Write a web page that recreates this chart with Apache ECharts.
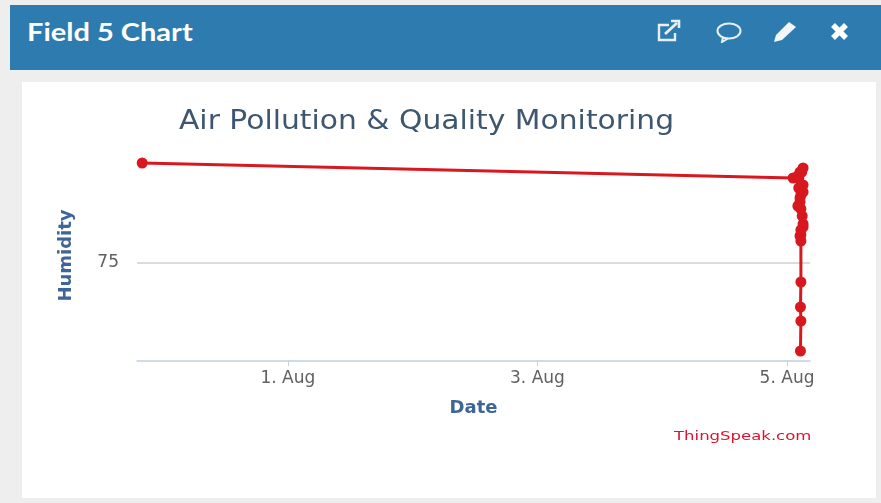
<!DOCTYPE html>
<html>
<head>
<meta charset="utf-8">
<title>Field 5 Chart</title>
<script src="https://cdn.jsdelivr.net/npm/echarts@6/dist/echarts.min.js"></script>
<style>
  html, body { margin: 0; padding: 0; background: #eeeeee; }
  #page { position: relative; width: 881px; height: 503px; overflow: hidden; }
  #header { position: absolute; left: 10px; top: 5px; width: 871px; height: 65px; background: #2e7bb0; }
  #header span { position: absolute; left: 17px; top: 11px; color: #fff; font: bold 25px Lato, sans-serif; transform: scaleX(1.16); transform-origin: left top; white-space: nowrap; }
  #header svg { position: absolute; top: 14px; }
  #card { position: absolute; left: 22px; top: 82px; width: 854px; height: 416px; background: #fff; }
  #main { position: absolute; left: 0; top: 0; width: 881px; height: 503px; }
</style>
</head>
<body>
<div id="page">
  <div id="header">
    <svg style="left:646px" width="28" height="24" viewBox="0 0 28 24" fill="none" stroke="#e8f0f6" stroke-width="2.4">
      <path d="M13 6H3v15h16v-7"/><path d="M9 15L21 4" stroke-width="2.8"/><path d="M15 2h8v7" stroke-width="2.6"/>
    </svg>
    <svg style="left:705px" width="28" height="24" viewBox="0 0 28 24" fill="none" stroke="#e8f0f6" stroke-width="2">
      <ellipse cx="14" cy="12" rx="11.5" ry="7.5"/><path d="M8 18l-1 5 6-3.5"/>
    </svg>
    <svg style="left:762px" width="28" height="24" viewBox="0 0 28 24" fill="#f2f6fa">
      <path d="M2 23l2-7L17 3l7 5L10 21z"/>
    </svg>
    <svg style="left:816px" width="28" height="24" viewBox="0 0 28 24" fill="none" stroke="#fff" stroke-width="5.5">
      <path d="M7 6l13 13M20 6L7 19"/>
    </svg>
    <span>Field 5 Chart</span>
  </div>
  <div id="card"></div>
  <div id="main"></div>
</div>
<script>
var titleText = 'Air Pollution & Quality Monitoring';
var xAxisName = 'Date';
var yAxisName = 'Humidity';
var creditText = 'ThingSpeak.com';
var xTicks = ['2018-08-01T00:00:00Z', '2018-08-03T00:00:00Z', '2018-08-05T00:00:00Z'];
var yTicks = [75];

var times = [
  '2018-07-30T20:00:00Z', '2018-08-05T01:10:00Z', '2018-08-05T02:05:00Z', '2018-08-05T03:05:00Z',
  '2018-08-05T02:50:00Z', '2018-08-05T02:30:00Z', '2018-08-05T02:15:00Z', '2018-08-05T02:40:00Z',
  '2018-08-05T03:05:00Z', '2018-08-05T02:15:00Z', '2018-08-05T03:05:00Z', '2018-08-05T02:40:00Z',
  '2018-08-05T02:30:00Z', '2018-08-05T02:30:00Z', '2018-08-05T02:05:00Z', '2018-08-05T02:40:00Z',
  '2018-08-05T02:55:00Z', '2018-08-05T03:05:00Z', '2018-08-05T03:05:00Z', '2018-08-05T02:40:00Z',
  '2018-08-05T02:40:00Z', '2018-08-05T02:30:00Z', '2018-08-05T02:40:00Z', '2018-08-05T02:40:00Z',
  '2018-08-05T02:35:00Z', '2018-08-05T02:40:00Z', '2018-08-05T02:35:00Z'
];
var humidity = [
  95, 92, 92.4, 94, 93.2, 93.2, 92, 90.4, 90.6, 90, 89.2, 88.6,
  88, 87.2, 86.4, 85.8, 84.4, 82.8, 82.2, 81.6, 80.6, 80.4, 79.4, 71.2, 66.2, 63.4, 57.4
];

function ms(t) { return +new Date(t); }

var chart = echarts.init(document.getElementById('main'));
chart.setOption({
  animation: false,
  graphic: [{
    type: 'text',
    x: 179,
    y: 109,
    scaleX: 1.145,
    style: { text: titleText, fill: '#3e576f', font: '26px "DejaVu Sans"' }
  }, {
    type: 'text',
    x: 674,
    y: 430,
    scaleX: 1.27,
    style: { text: creditText, fill: '#e01030', font: '13px "DejaVu Sans"' }
  }],
  grid: { left: 137, right: 71, top: 150, bottom: 142 },
  xAxis: {
    type: 'value',
    min: ms('2018-07-30T19:00:00Z'),
    max: ms('2018-08-05T04:25:00Z'),
    name: xAxisName,
    nameLocation: 'middle',
    nameGap: 38,
    nameTextStyle: { color: '#3d6595', fontWeight: 'bold', fontSize: 18, fontFamily: 'DejaVu Sans' },
    axisLine: { show: true, lineStyle: { color: '#c0d0e0', width: 1.5 } },
    axisTick: { show: true, length: 5, lineStyle: { color: '#c0d0e0' }, customValues: xTicks.map(ms) },
    axisLabel: {
      color: '#606060',
      fontSize: 17,
      fontFamily: 'DejaVu Sans',
      margin: 9,
      customValues: xTicks.map(ms),
      formatter: function (v) { return new Date(v).getUTCDate() + '. Aug'; }
    },
    splitLine: { show: false }
  },
  yAxis: {
    type: 'value',
    min: 55.4,
    max: 97.6,
    name: yAxisName,
    nameLocation: 'middle',
    nameGap: 62,
    nameTextStyle: { color: '#3d6595', fontWeight: 'bold', fontSize: 18, fontFamily: 'DejaVu Sans' },
    axisLine: { show: false },
    axisTick: { show: false, customValues: yTicks },
    axisLabel: { color: '#606060', fontSize: 17, fontFamily: 'DejaVu Sans', margin: 18, customValues: yTicks },
    splitLine: { show: true, lineStyle: { color: '#d0d0d0', width: 1.5 } }
  },
  series: [{
    type: 'line',
    data: times.map(function (t, i) { return [ms(t), humidity[i]]; }),
    symbol: 'circle',
    symbolSize: 11,
    clip: false,
    itemStyle: { color: '#d8181f' },
    lineStyle: { color: '#d8181f', width: 3 }
  }]
});
</script>
</body>
</html>
